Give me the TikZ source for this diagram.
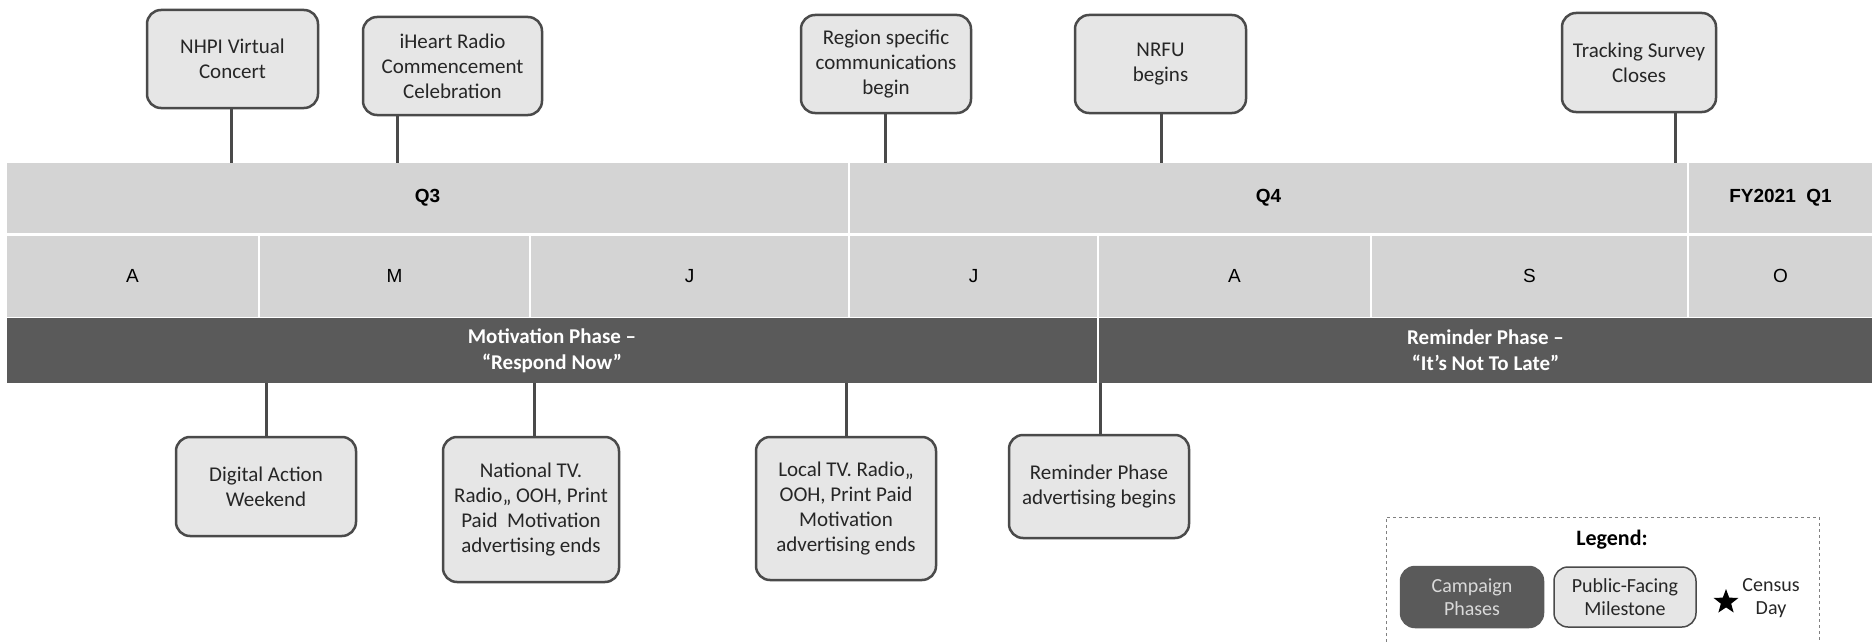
\documentclass[tikz,border=0pt]{standalone}
\usepackage{fontspec}
\setmainfont{Carlito}
\newfontfamily\arialfont{Liberation Sans}
\usetikzlibrary{shapes.geometric}

\definecolor{bandgray}{HTML}{D4D4D4}
\definecolor{phasegray}{HTML}{5A5A5A}
\definecolor{boxgray}{HTML}{E6E6E6}
\definecolor{edgegray}{HTML}{4A4A4A}

\tikzset{
	qcell/.style={rectangle, fill=bandgray, inner sep=0pt, minimum height=70, font=\arialfont\bfseries\fontsize{19}{22}\selectfont},
	mcell/.style={rectangle, fill=bandgray, inner sep=0pt, minimum height=81, font=\arialfont\fontsize{19}{22}\selectfont},
	phase/.style={rectangle, fill=phasegray, inner sep=0pt, minimum height=65, text=white, align=center, font=\bfseries\fontsize{21}{26}\selectfont},
	milestone/.style={rectangle, rounded corners=14, draw=edgegray, line width=2.5, fill=boxgray, inner sep=2pt, align=center, text=black!85, font=\fontsize{21}{25}\selectfont},
	link/.style={draw=edgegray, line width=3},
}

\begin{document}
\begin{tikzpicture}[x=1pt, y=-1pt]
	\useasboundingbox (0, 0) rectangle (1872, 642);

	% quarters
	\node (q3) [qcell, minimum width=841] at (427.5, 198) {Q3};
	\node (q4) [qcell, minimum width=837] at (1268.5, 198) {Q4};
	\node (q1) [qcell, minimum width=183] at (1780.5, 198) {FY2021\ \ Q1};

	% months
	\node (apr) [mcell, minimum width=251] at (132.5, 276) {A};
	\node (may) [mcell, minimum width=269] at (394.5, 276) {M};
	\node (jun) [mcell, minimum width=317] at (689.5, 276) {J};
	\node (jul) [mcell, minimum width=247] at (973.5, 276) {J};
	\node (aug) [mcell, minimum width=271] at (1234.5, 276) {A};
	\node (sep) [mcell, minimum width=315] at (1529.5, 276) {S};
	\node (oct) [mcell, minimum width=183] at (1780.5, 276) {O};

	% phases
	\node (motiv) [phase, minimum width=1090] at (552, 350.5) {Motivation Phase –\\“Respond Now”};
	\node (remind) [phase, minimum width=773] at (1485.5, 350.5) {Reminder Phase –\\“It’s Not To Late”};

	% milestones above
	\node (nhpi) [milestone, minimum width=171, minimum height=98] at (232.5, 59) {NHPI Virtual\\Concert};
	\node (iheart) [milestone, minimum width=179, minimum height=98] at (452.5, 66) {iHeart Radio\\Commencement\\Celebration};
	\node (region) [milestone, minimum width=170, minimum height=98] at (886, 64) {Region specific\\communications\\begin};
	\node (nrfu) [milestone, minimum width=171, minimum height=98] at (1160.5, 64) {NRFU\\begins};
	\node (tracking) [milestone, minimum width=154, minimum height=99] at (1639, 62.5) {Tracking Survey\\Closes};

	% milestones below
	\node (digital) [milestone, minimum width=180, minimum height=99] at (266, 486.5) {Digital Action\\Weekend};
	\node (national) [milestone, minimum width=176, minimum height=145] at (531, 509.5) {National TV.\\Radio,, OOH, Print\\Paid\ \ Motivation\\advertising ends};
	\node (localtv) [milestone, minimum width=180, minimum height=143] at (846, 508.5) {Local TV. Radio,,\\OOH, Print Paid\\Motivation\\advertising ends};
	\node (remindad) [milestone, minimum width=180, minimum height=103] at (1099, 486.5) {Reminder Phase\\advertising begins};

	\coordinate (x1) at (231, 0);
	\coordinate (x2) at (397, 0);
	\coordinate (x3) at (885, 0);
	\coordinate (x4) at (1161, 0);
	\coordinate (x5) at (1675, 0);
	\coordinate (x6) at (266, 0);
	\coordinate (x7) at (534, 0);
	\coordinate (x8) at (846, 0);
	\coordinate (x9) at (1100, 0);

	\path[link]
	(nhpi.south -| x1) edge (q3.north -| x1)
	(iheart.south -| x2) edge (q3.north -| x2)
	(region.south -| x3) edge (q4.north -| x3)
	(nrfu.south -| x4) edge (q4.north -| x4)
	(tracking.south -| x5) edge (q4.north -| x5)
	(motiv.south -| x6) edge (digital.north -| x6)
	(motiv.south -| x7) edge (national.north -| x7)
	(motiv.south -| x8) edge (localtv.north -| x8)
	(motiv.south -| x9) edge (remindad.north -| x9);

	% legend
	\draw[gray, dashed, line width=1] (1386, 642) |- (1819, 517) -- (1819, 642);
	\node (legend) [font=\bfseries\fontsize{22}{26}\selectfont] at (1612, 540) {Legend:};
	\node (campaign) [milestone, draw=phasegray, fill=phasegray, text=white!85!black, minimum width=142, minimum height=60, font=\fontsize{20}{23}\selectfont] at (1472, 597) {Campaign\\Phases};
	\node (public) [milestone, line width=1.5, minimum width=142, minimum height=60, font=\fontsize{20}{23}\selectfont] at (1625, 597) {Public-Facing\\Milestone};
	\node (censusstar) [star, star points=5, star point ratio=2.4, fill=black, minimum size=26, inner sep=0pt] at (1726, 602) {};
	\node (censusday) [align=center, text=black!85, font=\fontsize{20}{23}\selectfont] at (1771, 598) {Census\\Day};

\end{tikzpicture}
\end{document}
